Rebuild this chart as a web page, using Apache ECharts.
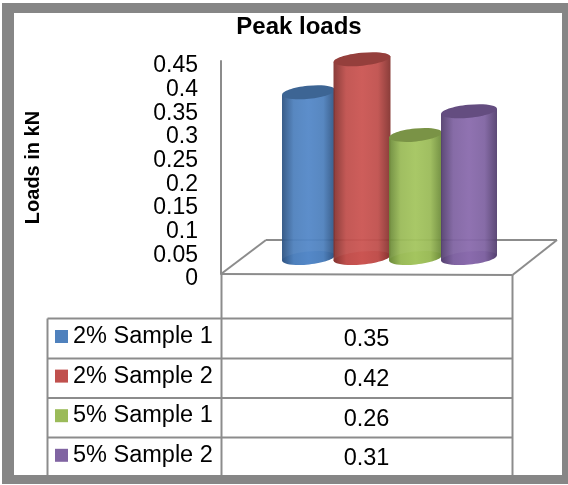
<!DOCTYPE html>
<html>
<head>
<meta charset="utf-8">
<style>
  html, body { margin: 0; padding: 0; background: #fff; }
  #chart { width: 568px; height: 485px; }
</style>
<script src="https://cdn.jsdelivr.net/npm/echarts@6/dist/echarts.min.js"></script>
</head>
<body>
<div id="chart"></div>
<script>
const samples = ['2% Sample 1', '2% Sample 2', '5% Sample 1', '5% Sample 2']
const peakLoads = [0.35, 0.42, 0.26, 0.31]
const axisMax = 0.45
const axisStep = 0.05

const FONT = '"Liberation Sans", Arial, sans-serif'
const LINE = '#8c8c8c'
const BORDER = '#868686'
// base, edge dark, centre light, top cap
const shades = [
  { base: '#4f81bd', edge: '#2f5482', mid: '#5488c8', cap: '#3d6594' },
  { base: '#c0504d', edge: '#843330', mid: '#cb5552', cap: '#953f3c' },
  { base: '#9bbb59', edge: '#6c8a3a', mid: '#a4c55f', cap: '#7a9346' },
  { base: '#8064a2', edge: '#54406f', mid: '#8a6bad', cap: '#644d80' }
]
const cylinderWidths = [53, 57, 53, 56]
const capTilt = 0.1
const capRy = 6.5

const chart = echarts.init(document.getElementById('chart'))

const cylinder = (index) => (params, api) => {
  const top = api.coord([api.value(0), api.value(1)])
  const base = api.coord([api.value(0), 0])
  const w = cylinderWidths[index]
  const c = shades[index]
  const lift = Math.sin(capTilt) * w / 2
  const side = {
    type: 'linear', x: 0, y: 0, x2: 1, y2: 0,
    colorStops: [
      { offset: 0, color: c.edge },
      { offset: 0.22, color: c.base },
      { offset: 0.5, color: c.mid },
      { offset: 0.78, color: c.base },
      { offset: 1, color: c.edge }
    ]
  }
  const cap = (y, fill) => ({
    type: 'ellipse',
    x: top[0], y: y, rotation: capTilt,
    shape: { cx: 0, cy: 0, rx: w / 2, ry: capRy },
    style: { fill: fill }
  })
  return {
    type: 'group',
    children: [
      cap(base[1], side),
      {
        type: 'polygon',
        shape: {
          points: [
            [top[0] - w / 2, top[1] + lift],
            [top[0] + w / 2, top[1] - lift],
            [top[0] + w / 2, base[1] - lift],
            [top[0] - w / 2, base[1] + lift]
          ]
        },
        style: { fill: side, opacity: 0.95 }
      },
      cap(top[1], c.cap)
    ]
  }
}

// 外框 / floor / table rules
const bar = (x, y, width, height) => ({
  type: 'rect', shape: { x, y, width, height }, style: { fill: BORDER }, z: 5
})
const rule = (x1, y1, x2, y2) => ({
  type: 'line', shape: { x1, y1, x2, y2 }, style: { stroke: LINE, lineWidth: 2 }, z: 1
})
const rowLines = [318.5, 358.5, 398, 437.5]
const rowCentres = [339.5, 379.5, 419.5, 458.5]

const graphics = [
  bar(2, 3, 566, 10),
  bar(2, 475, 566, 9),
  bar(2, 3, 12, 481),
  bar(562, 3, 6, 481),
  // floor
  rule(221, 274, 266, 240),
  rule(266, 240, 557, 240),
  rule(557, 240, 512.5, 275),
  rule(221, 274, 512.5, 275),
  // table
  rule(221.5, 274, 221.5, 475),
  rule(512.5, 275, 512.5, 475),
  rule(47.5, 318.5, 47.5, 475),
  ...rowLines.map(y => rule(47.5, y, 512.5, y)),
  ...peakLoads.map((v, i) => ({
    type: 'text',
    x: 366.5,
    y: rowCentres[i],
    z: 3,
    style: {
      text: String(v),
      align: 'center',
      verticalAlign: 'middle',
      fill: '#000',
      font: '23.5px ' + FONT
    }
  }))
]

chart.setOption({
  animation: false,
  backgroundColor: '#fff',
  title: {
    text: 'Peak loads',
    left: 294,
    top: 10,
    textAlign: 'center',
    textStyle: { fontFamily: FONT, fontSize: 24, fontWeight: 'bold', color: '#000' }
  },
  legend: {
    orient: 'vertical',
    left: 50,
    top: 319.5,
    itemWidth: 13,
    itemHeight: 13,
    itemGap: 15.6,
    icon: 'rect',
    selectedMode: false,
    data: samples,
    textStyle: { fontFamily: FONT, fontSize: 23.5, color: '#000' }
  },
  grid: [
    { left: 221, top: 61, width: 291, height: 213 },
    { left: 281.75, top: 45, width: 214, height: 213 }
  ],
  xAxis: [
    { gridIndex: 0, type: 'category', data: samples, show: false },
    { gridIndex: 1, type: 'category', data: samples, show: false }
  ],
  yAxis: [
    {
      gridIndex: 0,
      type: 'value',
      min: 0,
      max: axisMax,
      interval: axisStep,
      name: 'Loads in kN',
      nameLocation: 'middle',
      nameGap: 178,
      nameTextStyle: { fontFamily: FONT, fontSize: 20, fontWeight: 'bold', color: '#000' },
      axisLine: { show: true, lineStyle: { color: LINE, width: 2 } },
      axisTick: { show: false },
      splitLine: { show: false },
      axisLabel: {
        fontFamily: FONT,
        fontSize: 23,
        color: '#000',
        margin: 23,
        verticalAlign: 'top',
        lineHeight: 10
      }
    },
    { gridIndex: 1, type: 'value', min: 0, max: axisMax, interval: axisStep, show: false, splitLine: { show: false } }
  ],
  series: samples.map((name, i) => ({
    type: 'custom',
    name,
    xAxisIndex: 1,
    yAxisIndex: 1,
    coordinateSystem: 'cartesian2d',
    itemStyle: { color: shades[i].base },
    encode: { x: 0, y: 1 },
    data: [[name, peakLoads[i]]],
    renderItem: cylinder(i),
    z: 2 + i
  })),
  graphic: graphics
})
</script>
</body>
</html>
